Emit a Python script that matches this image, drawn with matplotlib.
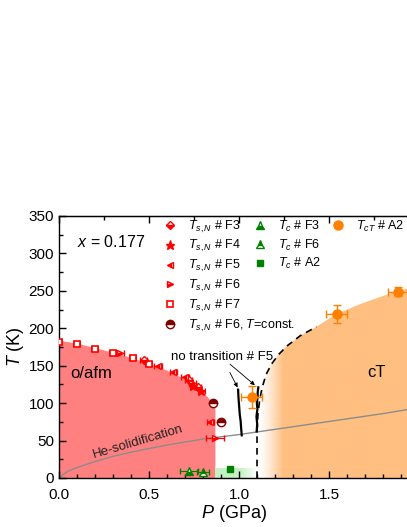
import numpy as np
import matplotlib.pyplot as plt
import matplotlib.colors as mcolors
from matplotlib.lines import Line2D
from matplotlib.patches import Polygon
from matplotlib.ticker import MultipleLocator

plt.rcParams['font.family'] = ['Liberation Sans', 'DejaVu Sans']
plt.rcParams['mathtext.fontset'] = 'custom'
plt.rcParams['mathtext.rm'] = 'Liberation Sans'
plt.rcParams['mathtext.it'] = 'Liberation Sans:italic'

# ---------------- data ----------------
# T_s,N, structural / magnetic transition
p_f3 = [0.47, 0.72, 0.77]
t_f3 = [158, 131, 121]
p_f4 = [0.745, 0.79]
t_f4 = [123, 116]
p_f5 = [0.55, 0.635, 0.70, 0.84]
t_f5 = [150, 142, 135, 75]
p_f6 = [0.34, 0.74, 0.865]
t_f6 = [167, 127, 54]
p_f7 = [0.0, 0.1, 0.2, 0.3, 0.41, 0.5]
t_f7 = [182, 179, 172, 167, 160, 152]
p_f6c = [0.855, 0.90]
t_f6c = [100, 75]

# T_c, superconductivity
p_tc_f3 = [0.72]
t_tc_f3 = [9.5]
p_tc_f6 = [0.80]
t_tc_f6 = [8.5]
p_tc_a2 = [0.95]
t_tc_a2 = [11.5]

# T_cT, collapsed tetragonal
p_ct = [1.07, 1.543, 1.885]
t_ct = [108, 219, 249]
p_ct_err = [0.057, 0.057, 0.055]
t_ct_err = [15, 12, 6]

# "no transition # F5" traces
p_nt1 = [1.015, 1.012, 1.009, 1.004, 1.001, 0.998, 0.996, 0.995]
t_nt1 = [57, 66, 76, 85, 95, 104, 112, 118]
p_nt2 = [1.098, 1.101, 1.097, 1.102, 1.099, 1.103, 1.104, 1.107]
t_nt2 = [62, 72, 82, 92, 100, 108, 115, 121]

# He solidification line
p_he = [0.0, 0.02, 0.05, 0.1, 0.2, 0.3, 0.45, 0.6, 0.8, 1.0, 1.2, 1.4, 1.6, 1.8, 1.95]
t_he = [0, 4, 9, 14, 22, 29, 37, 44, 52, 58, 65, 72, 79, 86, 92]

# phase regions
p_afm = [0.0, 0.1, 0.2, 0.3, 0.4, 0.5, 0.6, 0.7, 0.76, 0.8, 0.84, 0.866]
t_afm = [184, 180, 174, 168, 161, 153, 144, 132, 123, 115, 104, 95]
p_dash = [1.10, 1.10, 1.105, 1.115, 1.13, 1.15, 1.18, 1.22, 1.27, 1.34, 1.43]
t_dash = [0, 60, 85, 105, 122, 138, 152, 165, 177, 190, 202]
p_ctup = [1.54, 1.65, 1.75, 1.885, 1.95]
t_ctup = [219, 230, 239, 250, 254]

red = '#FF0000'
dred = '#800000'
green = '#008000'
orange = '#FF8000'

fig = plt.figure(figsize=(4.07, 5.27), dpi=100)
ax = fig.add_axes([0.145, 0.093, 0.858, 0.4972])

# o/afm region
ax.fill_between(p_afm, 0, t_afm, color='#FF8080', lw=0, zorder=0.5)

# cT region with white -> orange gradient
poly_pts = list(zip(p_dash, t_dash)) + list(zip(p_ctup, t_ctup)) + [(1.95, 0)]
poly = Polygon(poly_pts, closed=True, fc='none', ec='none')
ax.add_patch(poly)
xs = np.linspace(1.1, 1.95, 400)
grad = np.zeros((2, xs.size, 4))
grad[..., :3] = mcolors.to_rgb('#FFBF80')
grad[..., 3] = np.clip((xs - 1.11) / 0.135, 0, 1) ** 1.3
im = ax.imshow(grad, extent=[1.1, 1.95, 0, 260], aspect='auto', origin='lower',
               zorder=0.5, interpolation='bilinear')
im.set_clip_path(poly)

# superconducting band
xg = np.linspace(0.866, 1.1, 200)
gg = np.zeros((2, xg.size, 4))
gg[..., :3] = mcolors.to_rgb('#C4F2C4')
gg[..., 3] = np.clip((1.095 - xg) / 0.09, 0, 1)
ax.imshow(gg, extent=[0.866, 1.1, 0, 12.5], aspect='auto', origin='lower',
          zorder=0.5, interpolation='bilinear')

ax.set_xlim(0, 1.94)
ax.set_ylim(0, 350)

# boundary + He line
ax.plot(p_dash, t_dash, ls=(0, (4, 3)), color='k', lw=1.2, zorder=2)
ax.plot(p_he, t_he, color='#8C8C8C', lw=1.0, zorder=1.5)

# no transition traces
ax.plot(p_nt1, t_nt1, color='k', lw=1.6, zorder=3)
ax.plot(p_nt2, t_nt2, color='k', lw=1.6, zorder=3)

eb = dict(ls='none', capsize=2, elinewidth=0.8, capthick=0.8, zorder=4)
ax.errorbar(p_f7, t_f7, xerr=0.015, marker='s', ms=4.5, mfc='white', mec=red,
            mew=1.2, ecolor=red, **eb)
ax.errorbar(p_f3, t_f3, xerr=0.02, marker='D', ms=4.5, color=red, fillstyle='bottom',
            mfcalt='white', mew=1, ecolor=red, **eb)
ax.errorbar(p_f4, t_f4, xerr=0.02, marker='*', ms=6.5, color=red, ecolor=red, **eb)
ax.errorbar(p_f5, t_f5, xerr=0.02, marker='<', ms=5, color=red, fillstyle='left',
            mfcalt='white', mew=1, ecolor=red, **eb)
ax.errorbar(p_f6, t_f6, xerr=[0.02, 0.02, 0.05], marker='>', ms=5, color=red,
            fillstyle='bottom', mfcalt='white', mew=1, ecolor=red, **eb)
ax.errorbar(p_f6c, t_f6c, marker='o', ms=6, color=dred, fillstyle='top',
            mfcalt='white', mew=1, ls='none', zorder=4)

ax.errorbar(p_tc_f3, t_tc_f3, xerr=0.05, marker='^', ms=5.5, color=green,
            fillstyle='bottom', mfcalt='white', mew=1, ecolor=green, **eb)
ax.errorbar(p_tc_f6, t_tc_f6, xerr=0.035, marker='^', ms=5.5, color=green,
            fillstyle='top', mfcalt='white', mew=1, ecolor=green, **eb)
ax.plot(p_tc_a2, t_tc_a2, 's', ms=5, color=green, zorder=4)

ax.errorbar(p_ct, t_ct, xerr=p_ct_err, yerr=t_ct_err, marker='o', ms=6.5, color=orange,
            ls='none', capsize=3, elinewidth=1, capthick=1, zorder=4)

# texts
ax.text(0.10, 315, '$x$ = 0.177', fontsize=11.5, va='center')
ax.text(0.06, 140, 'o/afm', fontsize=12, va='center')
ax.text(1.71, 141, 'cT', fontsize=12, va='center')
ax.text(0.44, 48, 'He-solidification', fontsize=9.5, rotation=16.5, color='#222222',
        ha='center', va='center')
ax.annotate('no transition # F5', xy=(0.992, 121), xytext=(0.906, 161),
            fontsize=9.5, ha='center', va='center',
            arrowprops=dict(arrowstyle='-|>', lw=0.6, color='k', mutation_scale=6,
                            shrinkA=5, shrinkB=0))
ax.annotate('', xy=(1.088, 124), xytext=(0.95, 152),
            arrowprops=dict(arrowstyle='-|>', lw=0.6, color='k', mutation_scale=6,
                            shrinkA=0, shrinkB=0))

# legends
def h(**kw):
    return Line2D([], [], ls='none', **kw)

leg_kw = dict(fontsize=9, frameon=False, handlelength=1.0, handletextpad=0.94,
              labelspacing=0.30, borderpad=0, borderaxespad=0, loc='upper left')
l1 = ax.legend([h(marker='D', ms=4.5, color=red, fillstyle='bottom', mfcalt='white'),
                h(marker='*', ms=6.5, color=red),
                h(marker='<', ms=5, color=red, fillstyle='left', mfcalt='white'),
                h(marker='>', ms=5, color=red, fillstyle='bottom', mfcalt='white'),
                h(marker='s', ms=4.5, mfc='white', mec=red, mew=1.2),
                h(marker='o', ms=6, color=dred, fillstyle='top', mfcalt='white')],
               [r'$T_{s,N}$ # F3', r'$T_{s,N}$ # F4', r'$T_{s,N}$ # F5',
                r'$T_{s,N}$ # F6', r'$T_{s,N}$ # F7', r'$T_{s,N}$ # F6, $T$=const.'],
               bbox_to_anchor=(0.300, 0.99), **leg_kw)
ax.add_artist(l1)
l2 = ax.legend([h(marker='^', ms=5.5, color=green, fillstyle='bottom', mfcalt='white'),
                h(marker='^', ms=5.5, color=green, fillstyle='top', mfcalt='white'),
                h(marker='s', ms=5, color=green)],
               [r'$T_c$ # F3', r'$T_c$ # F6', r'$T_c$ # A2'],
               bbox_to_anchor=(0.558, 0.99), **leg_kw)
ax.add_artist(l2)
ax.legend([h(marker='o', ms=6.5, color=orange)], [r'$T_{cT}$ # A2'],
          bbox_to_anchor=(0.781, 0.99), **leg_kw)

# axes and ticks
ax.set_xlabel('$P$ (GPa)', fontsize=13, labelpad=1)
ax.set_ylabel('$T$ (K)', fontsize=13, labelpad=2)
ax.xaxis.set_major_locator(MultipleLocator(0.5))
ax.xaxis.set_minor_locator(MultipleLocator(0.1))
ax.yaxis.set_major_locator(MultipleLocator(50))
ax.yaxis.set_minor_locator(MultipleLocator(25))
ax.xaxis.set_major_formatter(plt.FormatStrFormatter('%.1f'))
ax.tick_params(which='both', direction='in', labelsize=11, width=1, top=False, right=False)
ax.tick_params(which='major', length=5)
ax.tick_params(which='minor', length=3)
ax.tick_params(axis='x', which='major', pad=7)
top = ax.secondary_xaxis('top')
top.xaxis.set_major_locator(MultipleLocator(0.5))
top.xaxis.set_minor_locator(MultipleLocator(0.25))
top.tick_params(which='both', direction='in', labeltop=False, width=1)
top.tick_params(which='major', length=5)
top.tick_params(which='minor', length=3)
for s in ax.spines.values():
    s.set_linewidth(1)

fig.savefig('out.png', dpi=100)
